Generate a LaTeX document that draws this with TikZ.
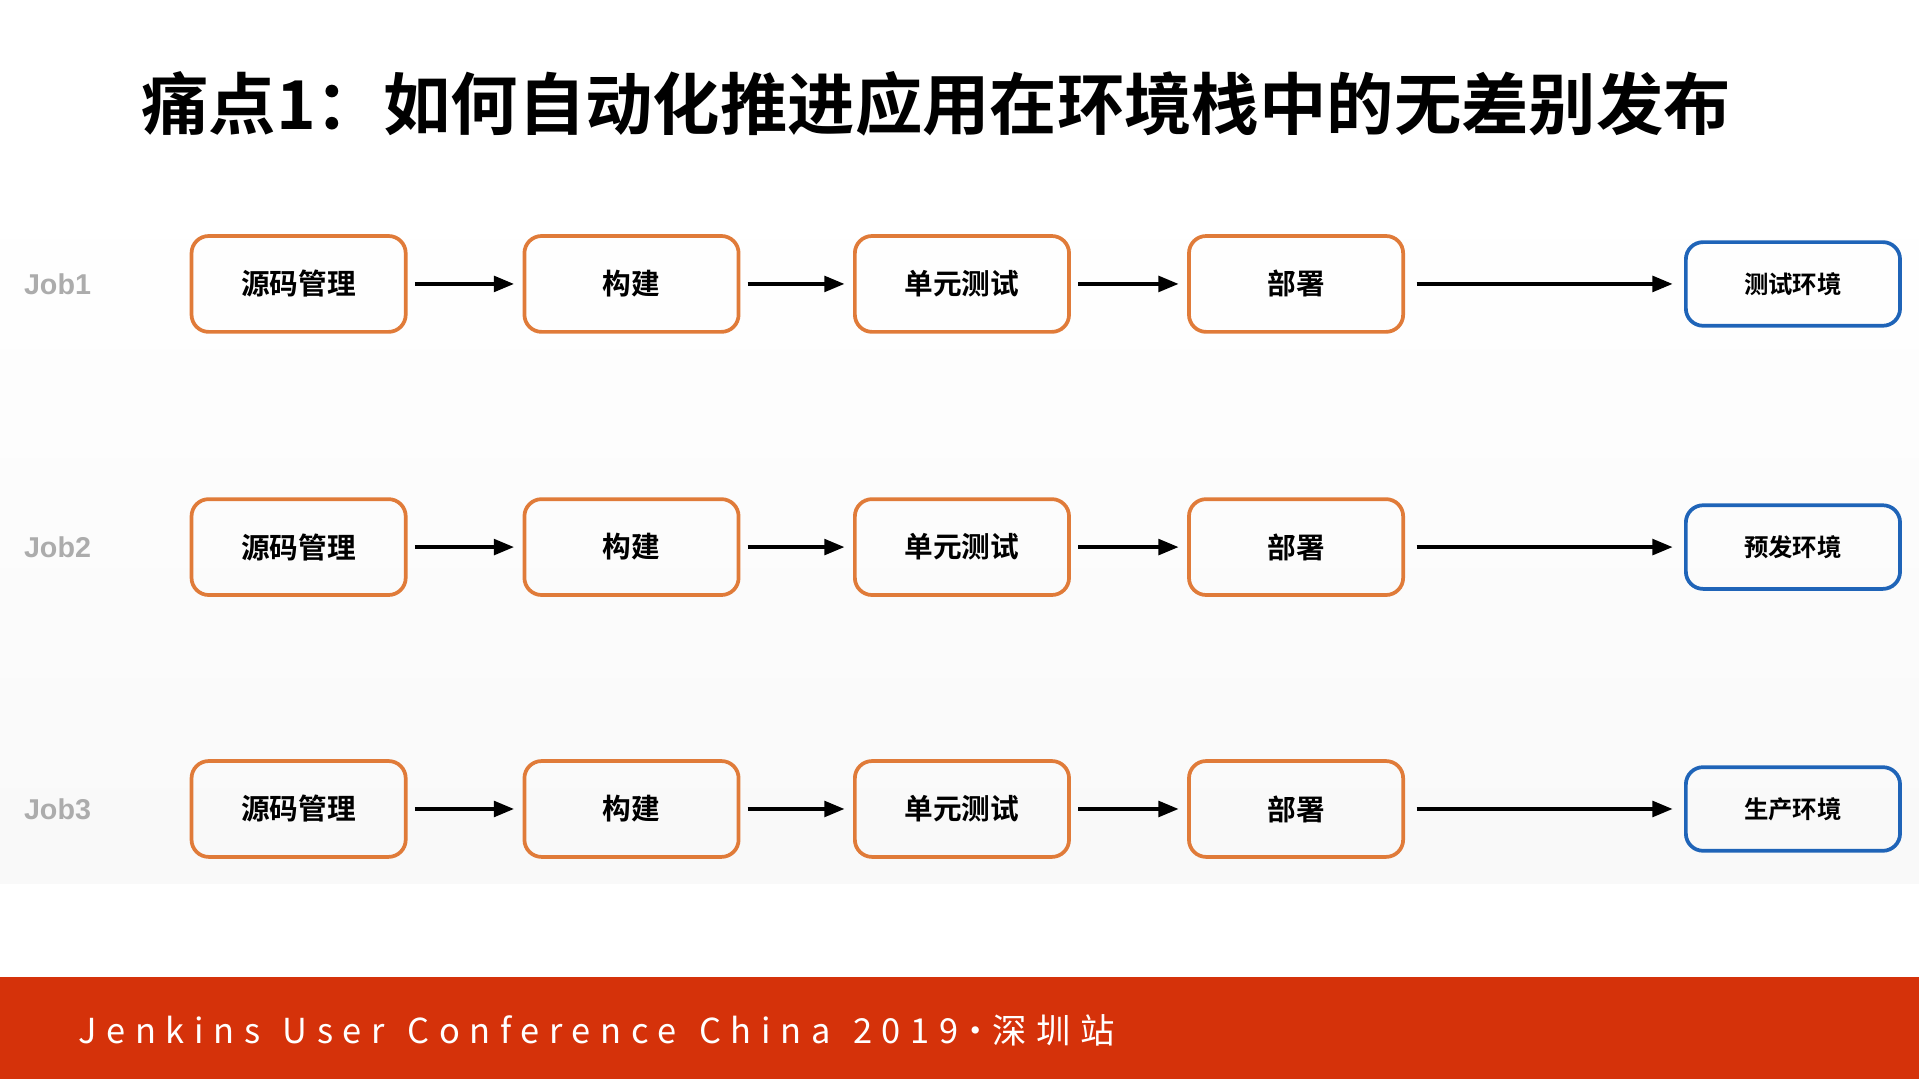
\documentclass[tikz,border=0pt]{standalone}
\usepackage{fontspec}
\setmainfont{Noto Sans CJK SC}
\newfontfamily\cjkb{Noto Sans CJK SC Bold}
\newfontfamily\lsans{Liberation Sans}
\newfontfamily\footfont[LetterSpace=28,WordSpace=1.3]{Noto Sans CJK SC}
\newfontfamily\dotfont{Noto Sans CJK SC}
\usetikzlibrary{arrows.meta}
\definecolor{org}{HTML}{E07B39}
\definecolor{blu}{HTML}{1F64B8}
\definecolor{barred}{HTML}{D5320A}
\tikzset{
 stepbox/.style={draw=org,line width=2.6pt,rounded corners=12pt,minimum width=5.25cm,minimum height=2.35cm,font=\cjkb\fontsize{20}{22}\selectfont},
 envbox/.style={draw=blu,line width=2.6pt,rounded corners=12pt,minimum width=5.25cm,minimum height=2.05cm,font=\cjkb\fontsize{17}{20}\selectfont},
 arr/.style={-{Triangle[length=14pt,width=11pt]},line width=2.2pt},
 joblbl/.style={text=gray!65,font=\lsans\bfseries\fontsize{20}{22}\selectfont}
}
\begin{document}
\begin{tikzpicture}[x=0.03cm,y=-0.03cm]
\useasboundingbox (0,0) rectangle (1568,882);
\fill[top color=white,bottom color=gray!5] (0,150) rectangle (1568,722);
\fill[barred] (0,798) rectangle (1568,882);
\node[font=\cjkb\fontsize{47}{52}\selectfont] (title) at (765,85) {痛点1：如何自动化推进应用在环境栈中的无差别发布};
\foreach \r/\y/\env in {1/232/测试环境,2/447/预发环境,3/661/生产环境}{
 \node[joblbl] (j\r) at (47,\y) {Job\r};
 \node[stepbox] (a\r) at (244,\y) {源码管理};
 \node[stepbox] (b\r) at (516,\y) {构建};
 \node[stepbox] (c\r) at (786,\y) {单元测试};
 \node[stepbox] (d\r) at (1059,\y) {部署};
 \node[envbox] (e\r) at (1465,\y) {\env};
 \draw[arr] ([xshift=5pt]a\r.east) -- ([xshift=-6pt]b\r.west);
 \draw[arr] ([xshift=5pt]b\r.east) -- ([xshift=-6pt]c\r.west);
 \draw[arr] ([xshift=5pt]c\r.east) -- ([xshift=-6pt]d\r.west);
 \draw[arr] ([xshift=8pt]d\r.east) -- ([xshift=-8pt]e\r.west);
}
\node[anchor=west,text=white,font=\footfont\fontsize{24}{28}\selectfont] (foot) at (60,842) {Jenkins User Conference China 2019{\dotfont\fontsize{24}{28}\selectfont·}深圳站};
\end{tikzpicture}
\end{document}
